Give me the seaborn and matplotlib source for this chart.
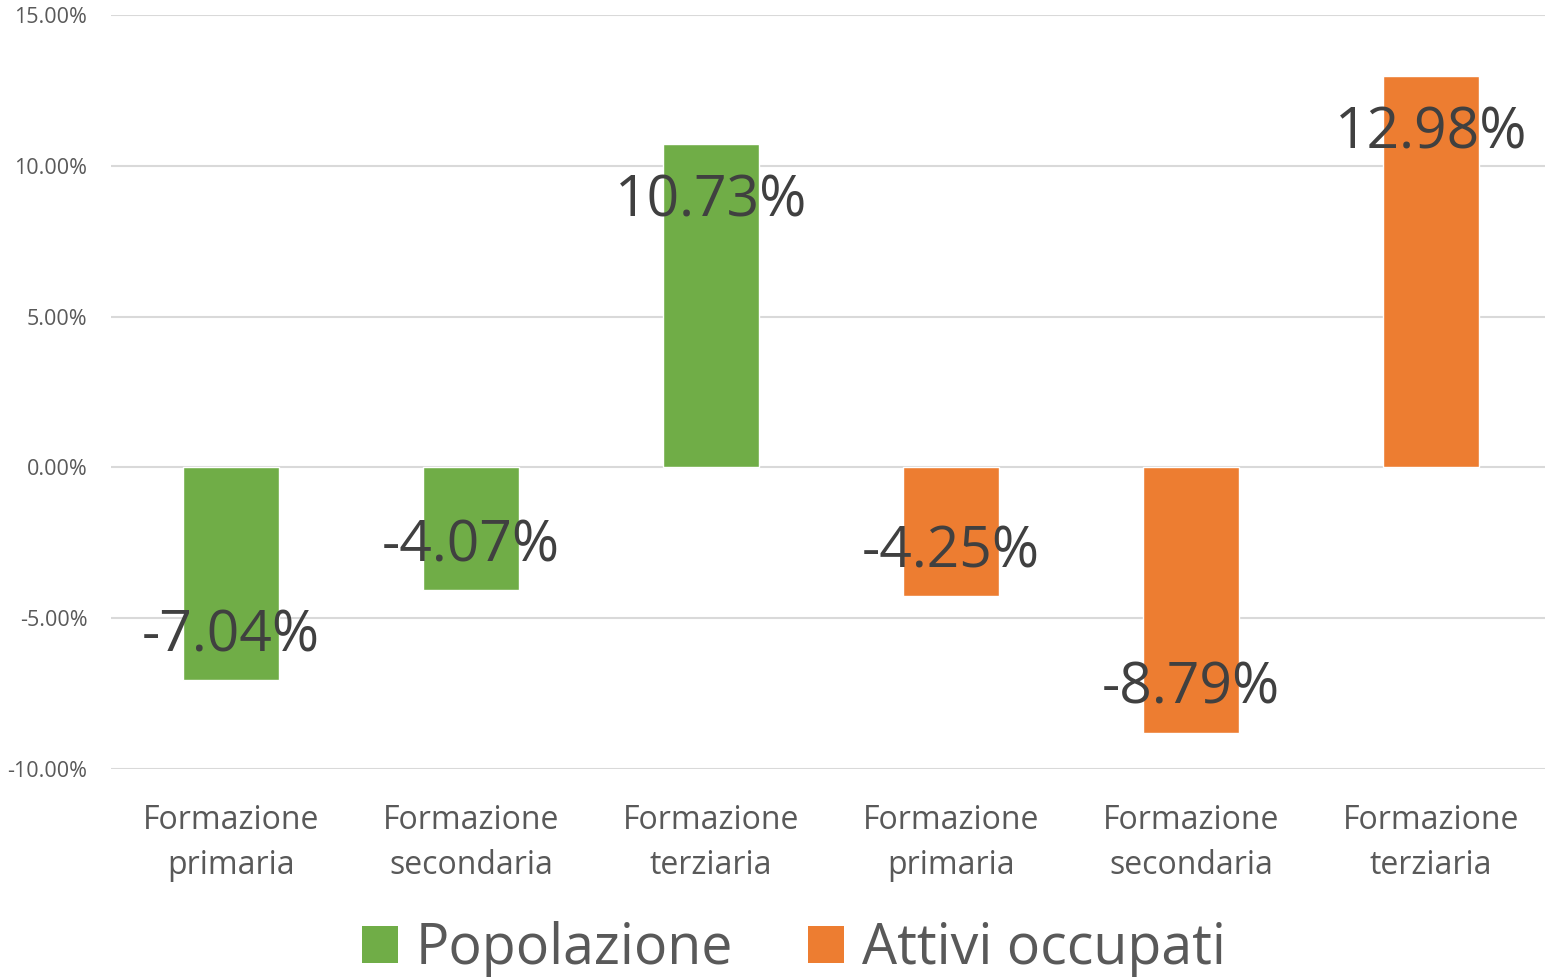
import numpy as np
import pandas as pd
import matplotlib
matplotlib.use("Agg")
import matplotlib.pyplot as plt
import seaborn as sns
from matplotlib.patches import Patch

# data
categories = ["Formazione\nprimaria", "Formazione\nsecondaria", "Formazione\nterziaria"]
series = ["Popolazione", "Attivi occupati"]
popolazione = [-7.04, -4.07, 10.73]
attivi = [-4.25, -8.79, 12.98]
yticks = [-10, -5, 0, 5, 10, 15]

COLORS = {"Popolazione": "#70AD47", "Attivi occupati": "#ED7D31"}

rows = []
for s, vals in zip(series, [popolazione, attivi]):
    for c, v in zip(categories, vals):
        rows.append({"slot": f"{s}|{c}", "cat": c, "serie": s, "val": v})
df = pd.DataFrame(rows)

sns.set_style("white")
plt.rcParams['font.family'] = ['Open Sans', 'DejaVu Sans']

fig = plt.figure(figsize=(15.45, 9.77), dpi=100)
ax = fig.add_axes([0.0718, 0.2129, 0.932, 0.7717])

sns.barplot(data=df, x="slot", y="val", hue="serie", palette=COLORS,
            dodge=False, width=0.4, ax=ax, legend=False, saturation=1)

ax.set_ylim(-10, 15)
ax.set_xlim(-0.5, len(df) - 0.5)
ax.set_yticks(yticks)
ax.set_yticklabels([f"{t:.2f}%" for t in yticks], fontsize=15.5, color="#595959")
ax.set_xticks(range(len(df)))
ax.set_xticklabels(df["cat"], fontsize=23, color="#595959", linespacing=1.48)
ax.tick_params(axis="both", length=0)
ax.tick_params(axis="y", pad=17)
ax.tick_params(axis="x", pad=25)
ax.grid(axis="y", color="#D9D9D9", linewidth=1.5)
ax.set_axisbelow(True)
for sp in ax.spines.values():
    sp.set_visible(False)
ax.set_xlabel("")
ax.set_ylabel("")

# data labels, inside end
for i, v in enumerate(df["val"]):
    off = -42 if v > 0 else 31
    ax.annotate(f"{v:.2f}%", (i, v), xytext=(0, off), textcoords="offset points",
                ha="center", va="center", fontsize=41, color="#404040")

handles = [Patch(facecolor=COLORS[s], edgecolor="none", label=s) for s in series]
fig.legend(handles=handles, loc="center", bbox_to_anchor=(0.514, 0.028), ncol=2,
           frameon=False, fontsize=40, handlelength=0.65, handleheight=0.65,
           handletextpad=0.32, columnspacing=1.35, labelcolor="#595959")

fig.savefig("out.png", dpi=100)
